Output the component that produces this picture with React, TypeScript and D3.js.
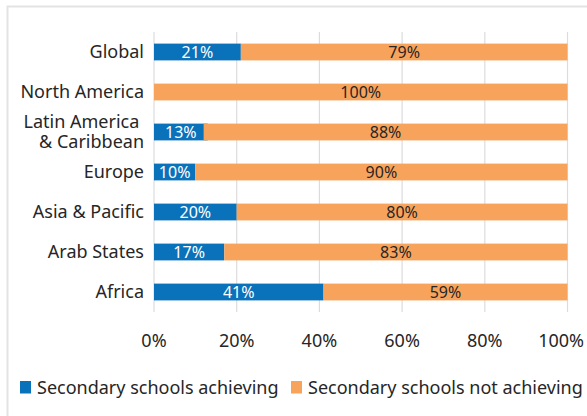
import * as d3 from "d3";
import React, { useEffect, useRef } from "react";

const regions = ["Global", "North America", "Latin America \n& Caribbean", "Europe", "Asia & Pacific", "Arab States", "Africa"];
const achieving = [21, 0, 13, 10, 20, 17, 41];
const notAchieving = [79, 100, 88, 90, 80, 83, 59];
const tickValues = [0, 20, 40, 60, 80, 100];
const seriesNames = ["Secondary schools achieving", "Secondary schools not achieving"];
const colors = ["#0A72BA", "#F8A35B"];

function App() {
  const ref = useRef<SVGSVGElement>(null);

  useEffect(() => {
    const svg = d3.select(ref.current);
    svg.selectAll("*").remove();
    const font = "'Noto Sans', sans-serif";
    const ink = "#262626";

    svg.append("rect")
      .attr("x", 7.5).attr("y", 6.5)
      .attr("width", 600).attr("height", 430)
      .attr("fill", "#fff").attr("stroke", "#e3e3e3").attr("stroke-width", 2);

    const x = d3.scaleLinear().domain([0, 100]).range([154, 567.5]);
    const y = d3.scaleBand().domain(regions).range([32, 312]).paddingInner(0.58).paddingOuter(0.29);

    const g = svg.append("g");

    g.selectAll("line.grid").data(tickValues).enter().append("line")
      .attr("class", "grid")
      .attr("x1", d => x(d)).attr("x2", d => x(d))
      .attr("y1", 32).attr("y2", 312)
      .attr("stroke", "#dcdcdc").attr("stroke-width", 1.2);

    regions.forEach((r, i) => {
      const a = achieving[i];
      const n = notAchieving[i];
      const y0 = y(r)!;
      const h = y.bandwidth();
      if (a > 0) {
        g.append("rect").attr("x", x(0)).attr("y", y0).attr("width", x(a) - x(0)).attr("height", h).attr("fill", colors[0]);
        g.append("text").attr("x", (x(0) + x(a)) / 2).attr("y", y0 + h / 2).attr("dy", "0.36em")
          .attr("text-anchor", "middle").attr("fill", "#fff").attr("font-size", 16).attr("font-family", font)
          .text(a + "%");
      }
      const start = Math.min(a, 100 - n);
      g.append("rect").attr("x", x(start)).attr("y", y0).attr("width", x(100) - x(start)).attr("height", h).attr("fill", colors[1]);
      g.append("text").attr("x", (x(start) + x(100)) / 2).attr("y", y0 + h / 2).attr("dy", "0.36em")
        .attr("text-anchor", "middle").attr("fill", ink).attr("font-size", 16).attr("font-family", font)
        .text(n + "%");

      const lines = r.split("\n");
      const label = g.append("text").attr("x", 144).attr("text-anchor", "end")
        .attr("fill", ink).attr("font-size", 18).attr("font-family", font)
        .style("white-space", "pre");
      lines.forEach((l, j) => {
        label.append("tspan").attr("x", 144)
          .attr("y", y0 + h / 2 + (j - (lines.length - 1) / 2) * 20)
          .attr("dy", "0.36em").text(l);
      });
    });

    g.selectAll("text.tick").data(tickValues).enter().append("text")
      .attr("class", "tick")
      .attr("x", d => (d === 100 ? 584 : x(d))).attr("y", 341).attr("dy", "0.36em")
      .attr("text-anchor", d => (d === 100 ? "end" : "middle"))
      .attr("fill", ink).attr("font-size", 18).attr("font-family", font)
      .text(d => d + "%");

    const legendX = [20, 291];
    seriesNames.forEach((s, i) => {
      g.append("rect").attr("x", legendX[i]).attr("y", 381).attr("width", 11).attr("height", 12.5).attr("fill", colors[i]);
      g.append("text").attr("x", legendX[i] + 17).attr("y", 388).attr("dy", "0.36em")
        .attr("fill", ink).attr("font-size", 18).attr("font-family", font).text(s);
    });
  }, []);

  return (
    <svg ref={ref} width={587} height={416} style={{ position: "absolute", left: 0, top: 0 }}></svg>
  );
}

export default App;
